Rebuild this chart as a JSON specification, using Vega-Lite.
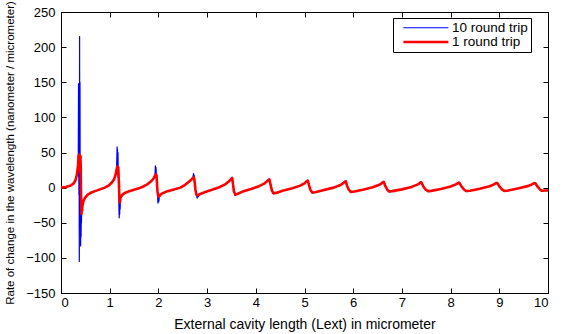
{
  "$schema": "https://vega.github.io/schema/vega-lite/v6.json",
  "width": 487,
  "height": 281,
  "autosize": {"type": "none"},
  "padding": {"left": 61, "top": 12, "right": 21, "bottom": 41},
  "background": "white",
  "config": {
    "view": {"stroke": "black", "strokeWidth": 1},
    "font": "Liberation Sans",
    "axis": {
      "grid": false,
      "domain": false,
      "offset": -5,
      "tickColor": "black",
      "tickSize": 5,
      "tickWidth": 1,
      "labelColor": "black",
      "labelFontSize": 13,
      "titleColor": "black",
      "titleFontWeight": "normal"
    }
  },
  "data": {
    "values": [
      {"s": "10", "x": 0, "y": 0}, {"s": "10", "x": 0.1, "y": 0.8}, {"s": "10", "x": 0.2, "y": 3}, {"s": "10", "x": 0.26, "y": 6},
      {"s": "10", "x": 0.3, "y": 11}, {"s": "10", "x": 0.33, "y": 20}, {"s": "10", "x": 0.35, "y": 32}, {"s": "10", "x": 0.355, "y": 45},
      {"s": "10", "x": 0.36, "y": 148}, {"s": "10", "x": 0.362, "y": 15}, {"s": "10", "x": 0.365, "y": 140}, {"s": "10", "x": 0.368, "y": -10},
      {"s": "10", "x": 0.372, "y": 60}, {"s": "10", "x": 0.376, "y": -105}, {"s": "10", "x": 0.382, "y": 215}, {"s": "10", "x": 0.386, "y": -40},
      {"s": "10", "x": 0.39, "y": 150}, {"s": "10", "x": 0.394, "y": -30}, {"s": "10", "x": 0.398, "y": 45}, {"s": "10", "x": 0.403, "y": -83},
      {"s": "10", "x": 0.408, "y": -35}, {"s": "10", "x": 0.412, "y": -70}, {"s": "10", "x": 0.416, "y": -37}, {"s": "10", "x": 0.42, "y": -50},
      {"s": "10", "x": 0.425, "y": -30}, {"s": "10", "x": 0.43, "y": -34}, {"s": "10", "x": 0.44, "y": -26}, {"s": "10", "x": 0.46, "y": -19},
      {"s": "10", "x": 0.5, "y": -14}, {"s": "10", "x": 0.55, "y": -10}, {"s": "10", "x": 0.62, "y": -7}, {"s": "10", "x": 0.7, "y": -5},
      {"s": "10", "x": 0.8, "y": -2.5}, {"s": "10", "x": 0.9, "y": 0}, {"s": "10", "x": 0.98, "y": 3}, {"s": "10", "x": 1.04, "y": 7},
      {"s": "10", "x": 1.09, "y": 12}, {"s": "10", "x": 1.12, "y": 18}, {"s": "10", "x": 1.14, "y": 25}, {"s": "10", "x": 1.148, "y": 45},
      {"s": "10", "x": 1.152, "y": 58}, {"s": "10", "x": 1.156, "y": 20}, {"s": "10", "x": 1.16, "y": 55}, {"s": "10", "x": 1.165, "y": 22},
      {"s": "10", "x": 1.17, "y": 50}, {"s": "10", "x": 1.175, "y": 15}, {"s": "10", "x": 1.18, "y": 30}, {"s": "10", "x": 1.186, "y": -10},
      {"s": "10", "x": 1.19, "y": -30}, {"s": "10", "x": 1.195, "y": -43}, {"s": "10", "x": 1.2, "y": -12}, {"s": "10", "x": 1.205, "y": -38},
      {"s": "10", "x": 1.21, "y": -21}, {"s": "10", "x": 1.215, "y": -30}, {"s": "10", "x": 1.22, "y": -15}, {"s": "10", "x": 1.25, "y": -11},
      {"s": "10", "x": 1.3, "y": -8}, {"s": "10", "x": 1.4, "y": -5}, {"s": "10", "x": 1.5, "y": -3}, {"s": "10", "x": 1.6, "y": -1},
      {"s": "10", "x": 1.7, "y": 2}, {"s": "10", "x": 1.78, "y": 5}, {"s": "10", "x": 1.85, "y": 9}, {"s": "10", "x": 1.9, "y": 13},
      {"s": "10", "x": 1.93, "y": 17}, {"s": "10", "x": 1.938, "y": 31}, {"s": "10", "x": 1.944, "y": 18}, {"s": "10", "x": 1.95, "y": 29},
      {"s": "10", "x": 1.96, "y": 18}, {"s": "10", "x": 1.97, "y": 8}, {"s": "10", "x": 1.98, "y": -5}, {"s": "10", "x": 1.99, "y": -22},
      {"s": "10", "x": 2.0, "y": -13}, {"s": "10", "x": 2.008, "y": -20}, {"s": "10", "x": 2.02, "y": -12}, {"s": "10", "x": 2.06, "y": -9},
      {"s": "10", "x": 2.15, "y": -6}, {"s": "10", "x": 2.3, "y": -3}, {"s": "10", "x": 2.45, "y": 0}, {"s": "10", "x": 2.55, "y": 4},
      {"s": "10", "x": 2.62, "y": 8}, {"s": "10", "x": 2.67, "y": 11}, {"s": "10", "x": 2.71, "y": 14}, {"s": "10", "x": 2.72, "y": 20},
      {"s": "10", "x": 2.728, "y": 14}, {"s": "10", "x": 2.735, "y": 18}, {"s": "10", "x": 2.745, "y": 8}, {"s": "10", "x": 2.76, "y": -3},
      {"s": "10", "x": 2.78, "y": -10}, {"s": "10", "x": 2.795, "y": -15}, {"s": "10", "x": 2.81, "y": -11}, {"s": "10", "x": 2.82, "y": -13},
      {"s": "10", "x": 2.86, "y": -9}, {"s": "10", "x": 2.95, "y": -6.5}, {"s": "10", "x": 3.1, "y": -3}, {"s": "10", "x": 3.25, "y": 0.5},
      {"s": "10", "x": 3.38, "y": 5}, {"s": "10", "x": 3.45, "y": 9}, {"s": "10", "x": 3.5, "y": 13}, {"s": "10", "x": 3.51, "y": 15},
      {"s": "10", "x": 3.52, "y": 13}, {"s": "10", "x": 3.53, "y": 6}, {"s": "10", "x": 3.55, "y": -5}, {"s": "10", "x": 3.58, "y": -11.5},
      {"s": "10", "x": 3.6, "y": -9.5}, {"s": "10", "x": 3.62, "y": -9}, {"s": "10", "x": 3.75, "y": -5}, {"s": "10", "x": 3.9, "y": -2},
      {"s": "10", "x": 4.05, "y": 1.5}, {"s": "10", "x": 4.18, "y": 6}, {"s": "10", "x": 4.26, "y": 11.5}, {"s": "10", "x": 4.28, "y": 12.3},
      {"s": "10", "x": 4.3, "y": 5}, {"s": "10", "x": 4.33, "y": -4}, {"s": "10", "x": 4.36, "y": -8.8}, {"s": "10", "x": 4.42, "y": -7.5},
      {"s": "10", "x": 4.55, "y": -4.5}, {"s": "10", "x": 4.75, "y": -1}, {"s": "10", "x": 4.9, "y": 2.5}, {"s": "10", "x": 5.0, "y": 6},
      {"s": "10", "x": 5.05, "y": 10}, {"s": "10", "x": 5.07, "y": 10.6}, {"s": "10", "x": 5.09, "y": 4}, {"s": "10", "x": 5.12, "y": -3},
      {"s": "10", "x": 5.16, "y": -7.8}, {"s": "10", "x": 5.22, "y": -6.5}, {"s": "10", "x": 5.4, "y": -3.5}, {"s": "10", "x": 5.6, "y": 0},
      {"s": "10", "x": 5.75, "y": 4}, {"s": "10", "x": 5.83, "y": 9}, {"s": "10", "x": 5.85, "y": 9.6}, {"s": "10", "x": 5.87, "y": 3},
      {"s": "10", "x": 5.91, "y": -3}, {"s": "10", "x": 5.95, "y": -6.8}, {"s": "10", "x": 6.02, "y": -5.5}, {"s": "10", "x": 6.2, "y": -3},
      {"s": "10", "x": 6.4, "y": 0.5}, {"s": "10", "x": 6.55, "y": 4.5}, {"s": "10", "x": 6.61, "y": 8.3}, {"s": "10", "x": 6.63, "y": 8.8},
      {"s": "10", "x": 6.66, "y": 2}, {"s": "10", "x": 6.7, "y": -3}, {"s": "10", "x": 6.74, "y": -6.3}, {"s": "10", "x": 6.8, "y": -5},
      {"s": "10", "x": 7.0, "y": -2.5}, {"s": "10", "x": 7.2, "y": 1}, {"s": "10", "x": 7.34, "y": 5}, {"s": "10", "x": 7.38, "y": 8},
      {"s": "10", "x": 7.4, "y": 8.2}, {"s": "10", "x": 7.44, "y": 1.5}, {"s": "10", "x": 7.49, "y": -3}, {"s": "10", "x": 7.54, "y": -5.8},
      {"s": "10", "x": 7.6, "y": -4.6}, {"s": "10", "x": 7.8, "y": -2}, {"s": "10", "x": 8.0, "y": 1.5}, {"s": "10", "x": 8.12, "y": 5},
      {"s": "10", "x": 8.16, "y": 7.5}, {"s": "10", "x": 8.18, "y": 7.6}, {"s": "10", "x": 8.23, "y": 1}, {"s": "10", "x": 8.28, "y": -3},
      {"s": "10", "x": 8.32, "y": -5.6}, {"s": "10", "x": 8.4, "y": -4.4}, {"s": "10", "x": 8.6, "y": -1.5}, {"s": "10", "x": 8.8, "y": 2},
      {"s": "10", "x": 8.9, "y": 5}, {"s": "10", "x": 8.94, "y": 7.1}, {"s": "10", "x": 8.96, "y": 7.2}, {"s": "10", "x": 9.01, "y": 1},
      {"s": "10", "x": 9.06, "y": -3}, {"s": "10", "x": 9.1, "y": -5.4}, {"s": "10", "x": 9.18, "y": -4.2}, {"s": "10", "x": 9.4, "y": -1},
      {"s": "10", "x": 9.6, "y": 2.5}, {"s": "10", "x": 9.68, "y": 5}, {"s": "10", "x": 9.72, "y": 7}, {"s": "10", "x": 9.74, "y": 7.1},
      {"s": "10", "x": 9.79, "y": 1}, {"s": "10", "x": 9.84, "y": -3}, {"s": "10", "x": 9.87, "y": -5.2}, {"s": "10", "x": 9.93, "y": -4.2},
      {"s": "10", "x": 10, "y": -4},

      {"s": "1", "x": 0, "y": 0}, {"s": "1", "x": 0.1, "y": 0.8}, {"s": "1", "x": 0.2, "y": 3}, {"s": "1", "x": 0.26, "y": 6},
      {"s": "1", "x": 0.3, "y": 11}, {"s": "1", "x": 0.33, "y": 20}, {"s": "1", "x": 0.35, "y": 32}, {"s": "1", "x": 0.36, "y": 44},
      {"s": "1", "x": 0.37, "y": 47}, {"s": "1", "x": 0.375, "y": 35}, {"s": "1", "x": 0.38, "y": 46}, {"s": "1", "x": 0.39, "y": 40},
      {"s": "1", "x": 0.395, "y": 22}, {"s": "1", "x": 0.4, "y": 45}, {"s": "1", "x": 0.405, "y": 30}, {"s": "1", "x": 0.41, "y": -5},
      {"s": "1", "x": 0.42, "y": -37}, {"s": "1", "x": 0.425, "y": -30}, {"s": "1", "x": 0.43, "y": -34}, {"s": "1", "x": 0.44, "y": -26},
      {"s": "1", "x": 0.46, "y": -19}, {"s": "1", "x": 0.5, "y": -14}, {"s": "1", "x": 0.55, "y": -10}, {"s": "1", "x": 0.62, "y": -7},
      {"s": "1", "x": 0.7, "y": -5}, {"s": "1", "x": 0.8, "y": -2.5}, {"s": "1", "x": 0.9, "y": 0}, {"s": "1", "x": 0.98, "y": 3},
      {"s": "1", "x": 1.04, "y": 7}, {"s": "1", "x": 1.09, "y": 12}, {"s": "1", "x": 1.12, "y": 18}, {"s": "1", "x": 1.14, "y": 25},
      {"s": "1", "x": 1.155, "y": 30}, {"s": "1", "x": 1.165, "y": 24}, {"s": "1", "x": 1.175, "y": 29}, {"s": "1", "x": 1.18, "y": 20},
      {"s": "1", "x": 1.19, "y": 5}, {"s": "1", "x": 1.2, "y": -18}, {"s": "1", "x": 1.21, "y": -21}, {"s": "1", "x": 1.22, "y": -15},
      {"s": "1", "x": 1.25, "y": -11}, {"s": "1", "x": 1.3, "y": -8}, {"s": "1", "x": 1.4, "y": -5}, {"s": "1", "x": 1.5, "y": -3},
      {"s": "1", "x": 1.6, "y": -1}, {"s": "1", "x": 1.7, "y": 2}, {"s": "1", "x": 1.78, "y": 5}, {"s": "1", "x": 1.85, "y": 9},
      {"s": "1", "x": 1.9, "y": 13}, {"s": "1", "x": 1.93, "y": 17}, {"s": "1", "x": 1.95, "y": 19}, {"s": "1", "x": 1.96, "y": 18},
      {"s": "1", "x": 1.97, "y": 8}, {"s": "1", "x": 1.98, "y": -5}, {"s": "1", "x": 2.0, "y": -13}, {"s": "1", "x": 2.02, "y": -12},
      {"s": "1", "x": 2.06, "y": -9}, {"s": "1", "x": 2.15, "y": -6}, {"s": "1", "x": 2.3, "y": -3}, {"s": "1", "x": 2.45, "y": 0},
      {"s": "1", "x": 2.55, "y": 4}, {"s": "1", "x": 2.62, "y": 8}, {"s": "1", "x": 2.67, "y": 11}, {"s": "1", "x": 2.71, "y": 14},
      {"s": "1", "x": 2.73, "y": 14.5}, {"s": "1", "x": 2.745, "y": 8}, {"s": "1", "x": 2.76, "y": -3}, {"s": "1", "x": 2.78, "y": -10},
      {"s": "1", "x": 2.81, "y": -11}, {"s": "1", "x": 2.86, "y": -9}, {"s": "1", "x": 2.95, "y": -6.5}, {"s": "1", "x": 3.1, "y": -3},
      {"s": "1", "x": 3.25, "y": 0.5}, {"s": "1", "x": 3.38, "y": 5}, {"s": "1", "x": 3.45, "y": 9}, {"s": "1", "x": 3.5, "y": 13},
      {"s": "1", "x": 3.515, "y": 13.5}, {"s": "1", "x": 3.53, "y": 6}, {"s": "1", "x": 3.55, "y": -5}, {"s": "1", "x": 3.58, "y": -10},
      {"s": "1", "x": 3.62, "y": -9}, {"s": "1", "x": 3.75, "y": -5}, {"s": "1", "x": 3.9, "y": -2}, {"s": "1", "x": 4.05, "y": 1.5},
      {"s": "1", "x": 4.18, "y": 6}, {"s": "1", "x": 4.26, "y": 11}, {"s": "1", "x": 4.28, "y": 11.5}, {"s": "1", "x": 4.3, "y": 5},
      {"s": "1", "x": 4.33, "y": -4}, {"s": "1", "x": 4.36, "y": -8}, {"s": "1", "x": 4.42, "y": -7.5}, {"s": "1", "x": 4.55, "y": -4.5},
      {"s": "1", "x": 4.75, "y": -1}, {"s": "1", "x": 4.9, "y": 2.5}, {"s": "1", "x": 5.0, "y": 6}, {"s": "1", "x": 5.05, "y": 9.5},
      {"s": "1", "x": 5.07, "y": 9.8}, {"s": "1", "x": 5.09, "y": 4}, {"s": "1", "x": 5.12, "y": -3}, {"s": "1", "x": 5.16, "y": -7},
      {"s": "1", "x": 5.22, "y": -6.5}, {"s": "1", "x": 5.4, "y": -3.5}, {"s": "1", "x": 5.6, "y": 0}, {"s": "1", "x": 5.75, "y": 4},
      {"s": "1", "x": 5.83, "y": 8.5}, {"s": "1", "x": 5.85, "y": 8.8}, {"s": "1", "x": 5.87, "y": 3}, {"s": "1", "x": 5.91, "y": -3},
      {"s": "1", "x": 5.95, "y": -6}, {"s": "1", "x": 6.02, "y": -5.5}, {"s": "1", "x": 6.2, "y": -3}, {"s": "1", "x": 6.4, "y": 0.5},
      {"s": "1", "x": 6.55, "y": 4.5}, {"s": "1", "x": 6.61, "y": 7.8}, {"s": "1", "x": 6.63, "y": 8}, {"s": "1", "x": 6.66, "y": 2},
      {"s": "1", "x": 6.7, "y": -3}, {"s": "1", "x": 6.74, "y": -5.5}, {"s": "1", "x": 6.8, "y": -5}, {"s": "1", "x": 7.0, "y": -2.5},
      {"s": "1", "x": 7.2, "y": 1}, {"s": "1", "x": 7.34, "y": 5}, {"s": "1", "x": 7.38, "y": 7.5}, {"s": "1", "x": 7.4, "y": 7.4},
      {"s": "1", "x": 7.44, "y": 1.5}, {"s": "1", "x": 7.49, "y": -3}, {"s": "1", "x": 7.54, "y": -5}, {"s": "1", "x": 7.6, "y": -4.6},
      {"s": "1", "x": 7.8, "y": -2}, {"s": "1", "x": 8.0, "y": 1.5}, {"s": "1", "x": 8.12, "y": 5}, {"s": "1", "x": 8.16, "y": 7},
      {"s": "1", "x": 8.18, "y": 6.8}, {"s": "1", "x": 8.23, "y": 1}, {"s": "1", "x": 8.28, "y": -3}, {"s": "1", "x": 8.32, "y": -4.8},
      {"s": "1", "x": 8.4, "y": -4.4}, {"s": "1", "x": 8.6, "y": -1.5}, {"s": "1", "x": 8.8, "y": 2}, {"s": "1", "x": 8.9, "y": 5},
      {"s": "1", "x": 8.94, "y": 6.6}, {"s": "1", "x": 8.96, "y": 6.4}, {"s": "1", "x": 9.01, "y": 1}, {"s": "1", "x": 9.06, "y": -3},
      {"s": "1", "x": 9.1, "y": -4.6}, {"s": "1", "x": 9.18, "y": -4.2}, {"s": "1", "x": 9.4, "y": -1}, {"s": "1", "x": 9.6, "y": 2.5},
      {"s": "1", "x": 9.68, "y": 5}, {"s": "1", "x": 9.72, "y": 6.5}, {"s": "1", "x": 9.74, "y": 6.3}, {"s": "1", "x": 9.79, "y": 1},
      {"s": "1", "x": 9.84, "y": -3}, {"s": "1", "x": 9.87, "y": -4.4}, {"s": "1", "x": 9.93, "y": -4.2}, {"s": "1", "x": 10, "y": -4}
    ]
  },
  "layer": [
    {
      "transform": [{"filter": "datum.s == '10'"}],
      "mark": {"type": "line", "clip": true, "strokeJoin": "round"},
      "encoding": {
        "x": {
          "field": "x", "type": "quantitative",
          "scale": {"domain": [0, 10], "nice": false, "zero": false},
          "axis": {"orient": "bottom", "values": [0, 1, 2, 3, 4, 5, 6, 7, 8, 9, 10], "labelPadding": 3, "titleFontSize": 14, "titlePadding": 8,
                   "title": "External cavity length (Lext) in micrometer"}
        },
        "y": {
          "field": "y", "type": "quantitative",
          "scale": {"domain": [-150, 250], "nice": false, "zero": false},
          "axis": {"orient": "left", "values": [-150, -100, -50, 0, 50, 100, 150, 200, 250], "labelPadding": 6, "titleFontSize": 11.5, "titlePadding": 10,
                   "title": "Rate of change in the wavelength (nanometer / micrometer)"}
        },
        "color": {
          "field": "s", "type": "nominal",
          "scale": {"domain": ["10", "1"], "range": ["#0000ff", "#ff0000"]},
          "legend": {"orient": "none", "legendX": 332, "legendY": 6, "title": null, "labelExpr": "datum.label + ' round trip\u00a0\u00a0'",
                     "labelFontSize": 13.5, "labelColor": "black", "symbolType": "M0.07,0H8.12", "symbolSize": 125, "labelOffset": 42,
                     "strokeColor": "black", "fillColor": "white", "padding": 3, "rowPadding": 0}
        },
        "strokeWidth": {
          "field": "s", "type": "nominal",
          "scale": {"domain": ["10", "1"], "range": [1.2, 2.6]},
          "legend": {"orient": "none", "legendX": 332, "legendY": 6, "title": null, "labelExpr": "datum.label + ' round trip\u00a0\u00a0'",
                     "labelFontSize": 13.5, "labelColor": "black", "symbolType": "M0.07,0H8.12", "symbolSize": 125, "labelOffset": 42,
                     "strokeColor": "black", "fillColor": "white", "padding": 3, "rowPadding": 0}
        }
      }
    },
    {
      "transform": [{"filter": "datum.s == '1'"}],
      "mark": {"type": "line", "clip": true, "strokeJoin": "round"},
      "encoding": {
        "x": {
          "field": "x", "type": "quantitative",
          "axis": {"orient": "top", "values": [0, 1, 2, 3, 4, 5, 6, 7, 8, 9, 10], "labels": false, "title": null}
        },
        "y": {
          "field": "y", "type": "quantitative",
          "axis": {"orient": "right", "values": [-150, -100, -50, 0, 50, 100, 150, 200, 250], "labels": false, "title": null}
        },
        "color": {"field": "s", "type": "nominal"},
        "strokeWidth": {"field": "s", "type": "nominal"}
      }
    }
  ],
  "resolve": {"axis": {"x": "independent", "y": "independent"}}
}
